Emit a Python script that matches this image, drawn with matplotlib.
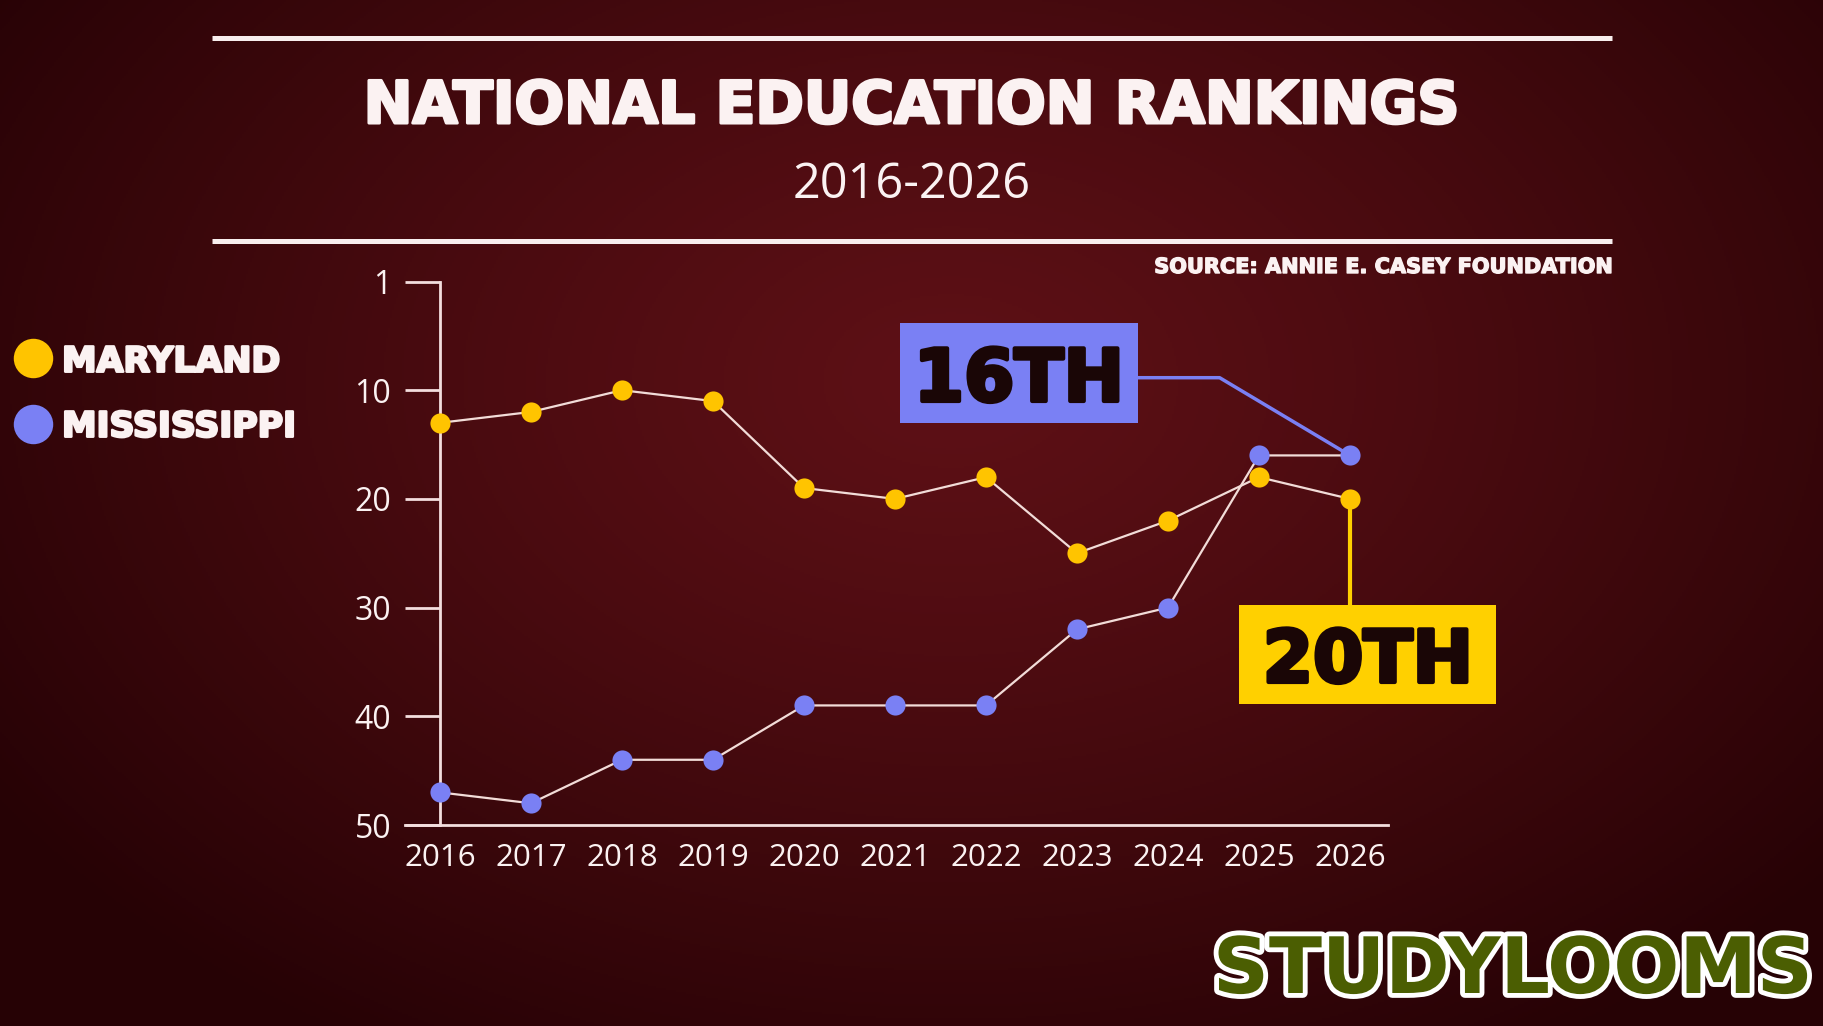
import numpy as np
import matplotlib.pyplot as plt
import matplotlib.patheffects as pe
from matplotlib.patches import Rectangle
from matplotlib.lines import Line2D

plt.rcParams['font.family'] = ['Open Sans', 'DejaVu Sans']

W, H = 1824, 1026

# data (rank, 1 = best)
years = [2016, 2017, 2018, 2019, 2020, 2021, 2022, 2023, 2024, 2025, 2026]
maryland = [13, 12, 10, 11, 19, 20, 18, 25, 22, 18, 20]
mississippi = [47, 48, 44, 44, 39, 39, 39, 32, 30, 16, 16]
rank_ticks = [0, 10, 20, 30, 40, 50]
rank_labels = ['1', '10', '20', '30', '40', '50']
series_names = ['MARYLAND', 'MISSISSIPPI']
callouts = ['16TH', '20TH']

yellow = '#ffc400'
blue = '#7a80f4'
box_yellow = '#ffd000'
line_c = '#f2dcd8'
axis_c = '#f3dede'
text_c = '#fbf2f2'
bold_font = 'DejaVu Sans'


def fx(px):
    return px / W


def fy(py):
    return 1 - py / H


def fat(col, w):
    # thicken the bold face a bit, the original uses a black-weight font
    return [pe.withStroke(linewidth=w, foreground=col)]


fig = plt.figure(figsize=(W / 100, H / 100), dpi=100)

# background: dark maroon radial gradient
bg = fig.add_axes([0, 0, 1, 1])
bg.set_zorder(-10)
bg.set_axis_off()
yy, xx = np.mgrid[0:H:2, 0:W:2]
t = np.sqrt(((xx - 950) / 1150.0) ** 2 + ((yy - 380) / 780.0) ** 2)
t = np.clip(t, 0, 1) ** 1.2
c_in = np.array([0x5e, 0x10, 0x16]) / 255
c_out = np.array([0x26, 0x02, 0x05]) / 255
img = c_in[None, None, :] * (1 - t[..., None]) + c_out[None, None, :] * t[..., None]
bg.imshow(img, aspect='auto', extent=[0, 1, 0, 1])

# header rules
for y in [38, 241]:
    fig.add_artist(Line2D([fx(212), fx(1612)], [fy(y), fy(y)], transform=fig.transFigure,
                          color='#f8eeee', lw=3.6, solid_capstyle='butt'))

fig.text(fx(912), fy(123), 'NATIONAL EDUCATION RANKINGS', ha='center', va='baseline',
         fontsize=42, weight='bold', family=bold_font, color=text_c,
         path_effects=fat(text_c, 2.2))
fig.text(fx(912), fy(198), '2016-2026', ha='center', va='baseline',
         fontsize=35, color=text_c)
fig.text(fx(1612), fy(273), 'SOURCE: ANNIE E. CASEY FOUNDATION', ha='right', va='baseline',
         fontsize=15, weight='bold', family=bold_font, color=text_c,
         path_effects=fat(text_c, 1))

# main chart
ax = fig.add_axes([fx(405), fy(825), (1388 - 405) / W, (825 - 281.5) / H])
ax.patch.set_alpha(0)
ax.plot(years, maryland, color=line_c, lw=1.6, zorder=3)
ax.plot(years, mississippi, color=line_c, lw=1.6, zorder=3)
ax.plot(years, maryland, 'o', color=yellow, ms=14.5, mec='none', zorder=6, clip_on=False)
ax.plot(years, mississippi, 'o', color=blue, ms=14.5, mec='none', zorder=6, clip_on=False)

ax.set_xlim(2016 - 35 / 91, 2016 + 948 / 91)
ax.set_ylim(50, 0)
ax.spines['left'].set_position(('data', 2016))
for s in ['top', 'right']:
    ax.spines[s].set_visible(False)
for s in ['left', 'bottom']:
    ax.spines[s].set_color(axis_c)
    ax.spines[s].set_linewidth(2)
ax.set_yticks(rank_ticks, rank_labels)
ax.set_xticks(years)
ax.tick_params(axis='y', length=25.2, width=2, color=axis_c, pad=10,
               labelsize=23, labelcolor=text_c)
ax.tick_params(axis='x', length=0, pad=13, labelsize=22.5, labelcolor=text_c)
for lbl in ax.get_xticklabels() + ax.get_yticklabels():
    lbl.set_fontweight('medium')

# callout connectors
ax.annotate('', xy=(years[-1], mississippi[-1]), xytext=(1138, H - 377.7),
            textcoords='figure pixels', zorder=4,
            arrowprops=dict(arrowstyle='-', color=blue, lw=2.5, shrinkA=0, shrinkB=0,
                            connectionstyle='angle,angleA=0,angleB=-30.8'))
ax.annotate('', xy=(years[-1], maryland[-1]), xytext=(0, -106),
            textcoords='offset pixels', zorder=4,
            arrowprops=dict(arrowstyle='-', color=box_yellow, lw=3, shrinkA=0, shrinkB=0))

# callout boxes
fig.add_artist(Rectangle((fx(900), fy(423)), 238 / W, 100 / H, transform=fig.transFigure,
                         fc=blue, ec='none', zorder=5))
fig.text(fx(1019), fy(401), callouts[0], ha='center', va='baseline', fontsize=52,
         weight='bold', family=bold_font, color='#1a0606', zorder=6,
         path_effects=fat('#1a0606', 3))
fig.add_artist(Rectangle((fx(1239), fy(704)), 257 / W, 99 / H, transform=fig.transFigure,
                         fc=box_yellow, ec='none', zorder=5))
fig.text(fx(1368), fy(682), callouts[1], ha='center', va='baseline', fontsize=52,
         weight='bold', family=bold_font, color='#1a0606', zorder=6,
         path_effects=fat('#1a0606', 3))

# legend
for name, col, yc, yb in [(series_names[0], yellow, 358, 371.7),
                          (series_names[1], blue, 423.7, 436.7)]:
    fig.add_artist(Line2D([fx(33)], [fy(yc)], transform=fig.transFigure, marker='o',
                          ms=28.4, color=col, mec='none', ls='none'))
    fig.text(fx(62), fy(yb), name, ha='left', va='baseline', fontsize=25,
             weight='bold', family=bold_font, color=text_c,
             path_effects=fat(text_c, 1.8))

# watermark
fig.text(fx(1513), fy(993), 'STUDYLOOMS', ha='center', va='baseline', fontsize=56,
         weight='bold', family=bold_font, color='#4b5e02',
         path_effects=[pe.withStroke(linewidth=7, foreground='white')])

fig.savefig('out.png', dpi=100)
